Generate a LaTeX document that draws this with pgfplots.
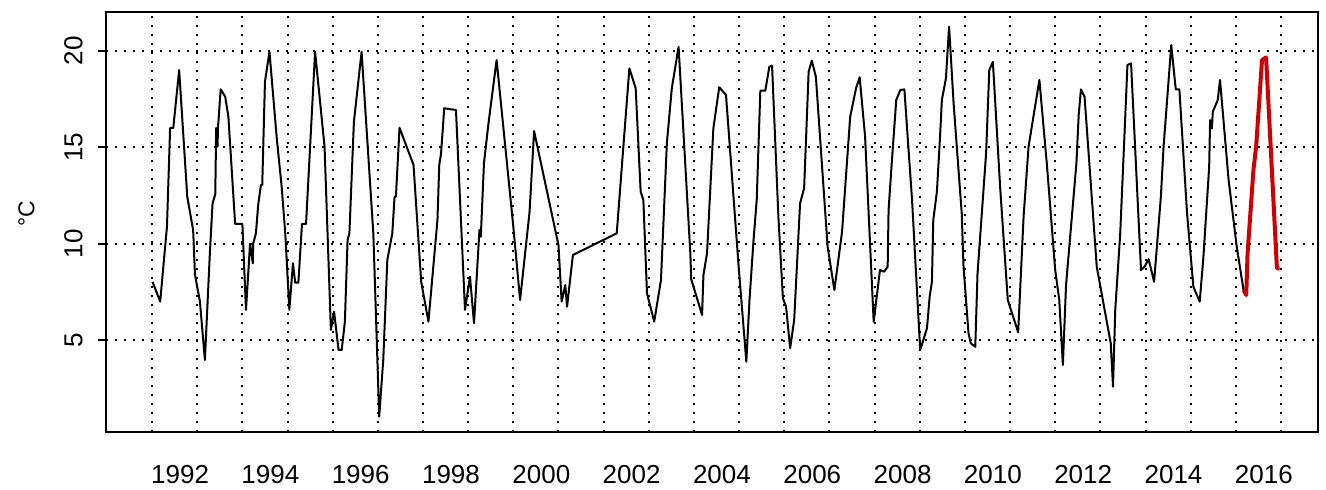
\documentclass[border=0pt]{standalone}
\usepackage{fontspec}
\setmainfont{Liberation Sans}
\usepackage{pgfplots}
\pgfplotsset{compat=1.18}
\usepackage{pgfplotstable}
\usetikzlibrary{calc}
\definecolor{rred}{RGB}{204,0,0}

% monthly water temperature, black = record, red = latest season
\pgfplotstableread{
yr temp
1991.39 8.02
1991.56 6.99
1991.71 10.88
1991.78 16.00
1991.85 16.00
1991.98 19.00
1992.16 12.43
1992.29 10.70
1992.33 8.40
1992.44 6.99
1992.55 3.96
1992.66 9.50
1992.72 12.09
1992.78 12.56
1992.80 16.00
1992.83 15.03
1992.84 16.00
1992.90 18.00
1993.00 17.62
1993.07 16.58
1993.22 11.02
1993.38 11.02
1993.46 6.56
1993.55 10.00
1993.61 8.98
1993.62 10.00
1993.68 10.53
1993.73 12.00
1993.79 13.04
1993.82 13.04
1993.88 18.40
1993.98 19.95
1994.14 15.50
1994.25 12.95
1994.33 10.53
1994.42 6.56
1994.50 8.98
1994.55 7.97
1994.62 7.97
1994.70 11.02
1994.79 11.02
1994.99 19.95
1995.20 15.03
1995.34 5.52
1995.41 6.47
1995.51 4.48
1995.58 4.48
1995.65 5.95
1995.71 10.19
1995.75 10.53
1995.85 16.32
1996.02 19.95
1996.28 10.53
1996.41 1.02
1996.50 3.96
1996.59 9.15
1996.70 10.53
1996.75 12.43
1996.78 12.43
1996.86 16.01
1997.17 14.08
1997.34 8.02
1997.50 5.95
1997.70 11.22
1997.74 14.08
1997.78 14.68
1997.85 17.02
1998.11 16.93
1998.31 6.56
1998.42 8.28
1998.51 5.87
1998.63 10.71
1998.66 10.36
1998.73 14.17
1998.83 16.24
1999.01 19.52
1999.38 10.88
1999.53 7.07
1999.74 11.65
1999.84 15.84
2000.34 10.36
2000.38 9.93
2000.45 6.99
2000.53 7.85
2000.57 6.73
2000.70 9.41
2001.67 10.53
2001.95 19.09
2002.09 18.06
2002.20 12.69
2002.26 12.26
2002.34 7.42
2002.50 5.95
2002.65 8.11
2002.78 15.20
2002.89 18.06
2003.04 20.21
2003.30 9.50
2003.32 8.15
2003.56 6.30
2003.59 8.37
2003.67 9.50
2003.81 15.98
2003.94 18.11
2004.09 17.71
2004.37 8.80
2004.54 3.87
2004.61 7.07
2004.70 10.19
2004.77 12.26
2004.85 17.93
2004.96 17.93
2005.05 19.18
2005.11 19.23
2005.25 11.40
2005.35 7.16
2005.42 6.73
2005.51 4.57
2005.60 6.04
2005.73 12.09
2005.82 12.87
2005.92 18.92
2005.99 19.49
2006.08 18.66
2006.34 9.84
2006.49 7.59
2006.66 10.62
2006.84 16.58
2006.97 18.06
2007.05 18.63
2007.17 15.55
2007.36 5.95
2007.50 8.63
2007.59 8.54
2007.67 8.80
2007.69 11.74
2007.76 14.17
2007.86 17.45
2007.95 17.97
2008.04 18.00
2008.21 12.26
2008.39 4.48
2008.54 5.60
2008.60 7.25
2008.65 8.02
2008.68 11.22
2008.76 12.69
2008.83 15.55
2008.87 17.45
2008.96 18.57
2009.03 21.25
2009.13 17.28
2009.31 11.57
2009.35 8.80
2009.46 5.35
2009.51 4.83
2009.61 4.65
2009.66 8.46
2009.85 14.68
2009.92 19.00
2010.00 19.43
2010.16 12.95
2010.33 7.07
2010.40 6.56
2010.56 5.40
2010.68 11.40
2010.79 15.03
2011.03 18.49
2011.20 13.99
2011.38 8.63
2011.47 7.07
2011.55 3.70
2011.62 7.85
2011.85 14.17
2011.90 16.67
2011.95 18.00
2012.03 17.62
2012.30 8.80
2012.61 4.83
2012.66 2.58
2012.71 6.56
2012.82 10.53
2012.98 19.26
2013.06 19.35
2013.28 8.63
2013.36 8.80
2013.45 9.19
2013.57 8.02
2013.72 12.43
2013.78 15.03
2013.95 20.30
2014.05 18.00
2014.13 18.00
2014.30 11.57
2014.44 7.76
2014.58 6.99
2014.66 9.24
2014.79 13.99
2014.81 16.41
2014.85 15.98
2014.87 16.84
2014.98 17.45
2015.03 18.49
2015.22 13.30
2015.40 9.84
2015.55 7.60
}\obs

\pgfplotstableread{
yr temp
2015.55 7.60
2015.61 7.33
2015.64 9.50
2015.77 13.82
2015.83 15.03
2015.96 19.52
2016.05 19.66
2016.29 8.72
2016.35 8.72
}\recent

\begin{document}
\begin{tikzpicture}
\begin{axis}[
  scale only axis,
  width=606pt, height=210.3pt,
  xmin=1990.36, xmax=2017.2,
  ymin=0.21, ymax=22.03,
  axis line style={line width=1pt},
  xtick={1992,1994,1996,1998,2000,2002,2004,2006,2008,2010,2012,2014,2016},
  xticklabels={1992,1994,1996,1998,2000,2002,2004,2006,2008,2010,2012,2014,2016},
  minor xtick={1991.38,1992.38,...,2016.38},
  ytick={5,10,15,20},
  yticklabels={5,10,15,20},
  xtick pos=bottom, ytick pos=left,
  tick align=outside,
  major tick length=4pt,
  minor tick length=0pt,
  xtick style={draw=none},
  ytick style={line width=1pt, black},
  xminorgrids, ymajorgrids,
  grid style={black, line width=1pt, dash pattern=on 1pt off 3.5pt},
  minor grid style={black, line width=1pt, dash pattern=on 1pt off 3.5pt},
  tick label style={font=\fontsize{13}{15}\selectfont, inner sep=0pt},
  xticklabel style={anchor=north},
  xticklabel shift=12.5pt,
  yticklabel style={rotate=90, anchor=south},
  yticklabel shift=7.5pt,
  ylabel={°C},
  ylabel style={font=\fontsize{11.5}{13}\selectfont, inner sep=0pt,
    at={(axis description cs:-0.0586,0.52)}, anchor=south, rotate=0},
]
\addplot[black, line width=1pt, line join=round] table[x=yr, y=temp] {\obs};
\addplot[rred, line width=2pt, line join=round] table[x=yr, y=temp] {\recent};
\end{axis}
\pgfresetboundingbox
\path[use as bounding box] ($(current axis.south west)+(-53pt,-28.35pt)$)
  rectangle ($(current axis.north east)+(4pt,5.85pt)$);
\end{tikzpicture}
\end{document}
